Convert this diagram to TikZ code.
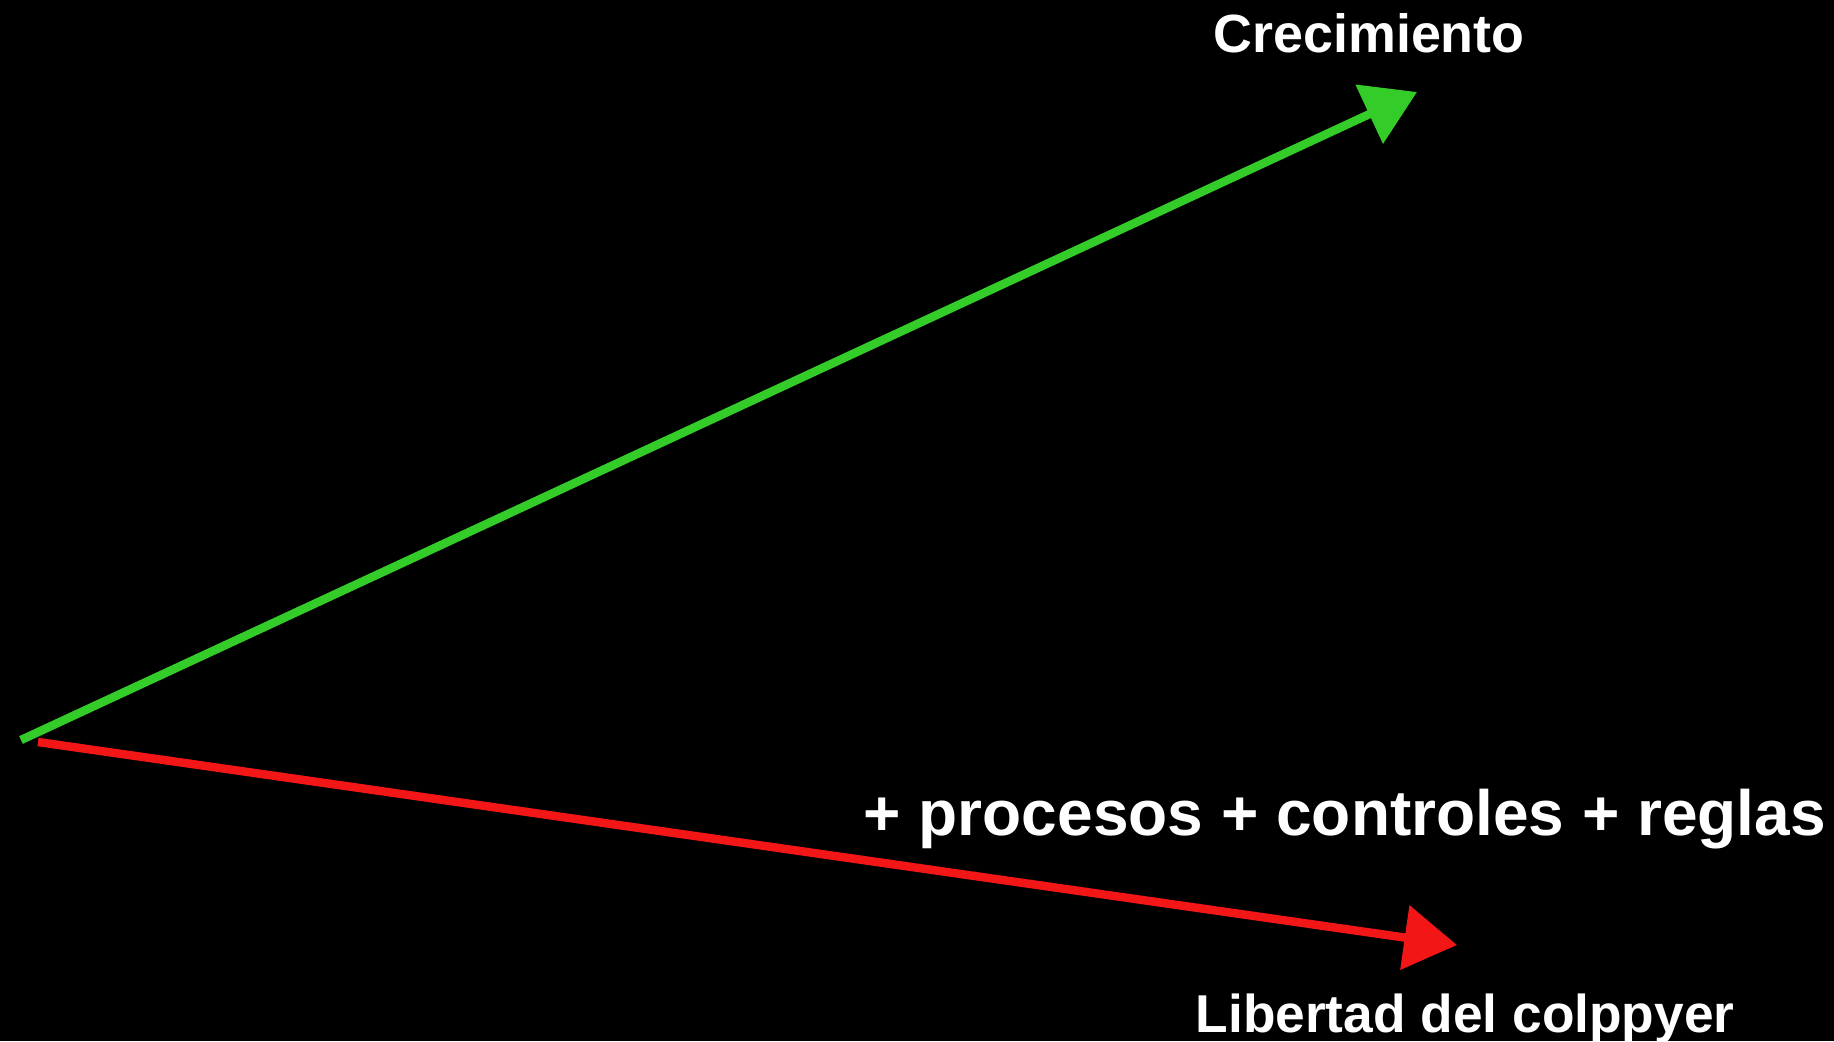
\documentclass[tikz,border=0pt]{standalone}
\usepackage{fontspec}
\setmainfont{Liberation Sans}
\usetikzlibrary{arrows.meta}
\definecolor{arrgreen}{RGB}{52,204,40}
\definecolor{arrred}{RGB}{242,22,22}
\tikzset{
  vec/.style={line width=2.4pt, -{Triangle[length=15pt,width=18pt]}},
  lbl/.style={text=white, font=\bfseries, inner sep=0pt, anchor=base west},
}
\begin{document}
\begin{tikzpicture}[x=0.01cm,y=0.01cm]
\fill[black] (0,0) rectangle (1834,1041);
\useasboundingbox (0,0) rectangle (1834,1041);
\coordinate (gstart) at (21,301);
\coordinate (gend) at (1417,949);
\coordinate (rstart) at (38,299);
\coordinate (rend) at (1457,96);
\draw[vec, arrgreen] (gstart) -- (gend);
\draw[vec, arrred] (rstart) -- (rend);
\node[lbl, font=\fontsize{15.3pt}{18pt}\selectfont\bfseries] (crec) at (1213,989) {Crecimiento};
\node[lbl, font=\fontsize{18.2pt}{21pt}\selectfont\bfseries] (proc) at (863,206) {+ procesos + controles + reglas};
\node[lbl, font=\fontsize{15.15pt}{17pt}\selectfont\bfseries] (lib) at (1195,9) {Libertad del colppyer};
\end{tikzpicture}
\end{document}
